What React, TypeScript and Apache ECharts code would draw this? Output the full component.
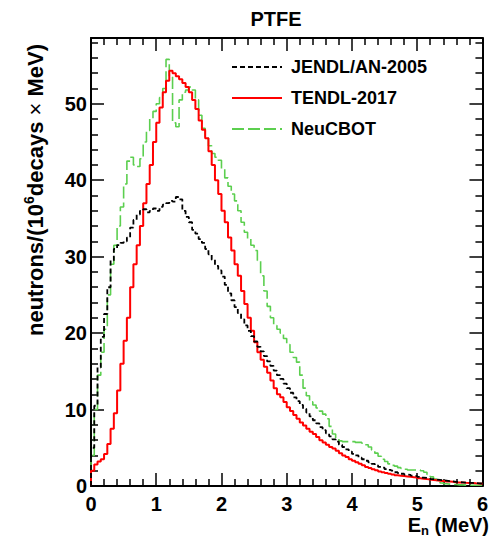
import React, { useEffect, useRef } from 'react';
import * as echarts from 'echarts';

// Histogram bins: 0.05 MeV wide, from 0 to 6 MeV (120 bins)
const BIN_WIDTH = 0.05;
const X_MIN = 0;
const X_MAX = 6;
const Y_MAX = 58.6;
const X_TICK_STEP = 1;
const Y_TICK_STEP = 10;

const SERIES_NAMES = ['JENDL/AN-2005', 'TENDL-2017', 'NeuCBOT'];

const jendl = [
  5, 10.5, 15.5, 19.5, 22.5, 26, 29.5, 31, 31.5, 31.8,
  32, 32.5, 33.8, 34.8, 35.5, 36, 36.2, 35.8, 36, 36.3,
  36, 36.5, 36.8, 37, 37.3, 37.2, 37.8, 37.5, 36, 35.2,
  34.5, 33.5, 33, 32.3, 31.8, 31, 30.3, 29.6, 28.8, 28.2,
  27.4, 26.3, 25.2, 24.3, 23.4, 22.6, 21.8, 21, 20.3, 19.6,
  18.9, 18.2, 17.6, 17, 16.3, 15.7, 15.1, 14.5, 14, 13.4,
  12.8, 12.2, 11.6, 11.1, 10.6, 10.1, 9.6, 9.1, 8.6, 8.2,
  7.7, 7.3, 6.9, 6.5, 6.1, 5.8, 5.4, 5.1, 4.8, 4.5,
  4.2, 4.0, 3.7, 3.5, 3.3, 3.1, 2.9, 2.7, 2.5, 2.4,
  2.2, 2.1, 2.0, 1.8, 1.7, 1.6, 1.5, 1.45, 1.35, 1.3,
  1.2, 1.1, 1.05, 1.0, 0.9, 0.85, 0.8, 0.75, 0.7, 0.65,
  0.6, 0.55, 0.5, 0.48, 0.45, 0.42, 0.4, 0.37, 0.35, 0.32,
];

const tendl = [
  2.0, 2.8, 3.2, 3.5, 4.2, 5.5, 7.5, 9.5, 12.5, 16,
  19, 22, 26, 29, 31.5, 34, 37, 39.5, 42, 45,
  47.5, 49.5, 51.5, 53, 54.3, 54.0, 53.6, 53.2, 52.7, 52.2,
  51.5, 50.5, 49.3, 47.8, 46.6, 45.5, 43.8, 42, 40, 38.2,
  36, 34.5, 32.5, 30.8, 29, 27.5, 25.5, 23.8, 22, 20.3,
  18.8, 17.5, 16.5, 15.6, 14.8, 13.8, 12.8, 12, 11.6, 11.0,
  10.3, 9.8, 9.3, 8.8, 8.3, 7.9, 7.5, 7.1, 6.8, 6.4,
  6.0, 5.7, 5.4, 5.1, 4.9, 4.6, 4.3, 4.0, 3.8, 3.5,
  3.3, 3.1, 2.9, 2.7, 2.5, 2.35, 2.2, 2.05, 1.9, 1.8,
  1.7, 1.6, 1.5, 1.4, 1.35, 1.3, 1.25, 1.2, 1.15, 1.1,
  1.0, 0.95, 0.9, 0.85, 0.8, 0.75, 0.7, 0.65, 0.6, 0.58,
  0.55, 0.5, 0.47, 0.45, 0.42, 0.4, 0.38, 0.35, 0.33, 0.3,
];

const neucbot = [
  4, 10, 14.5, 17.5, 20.5, 25, 29, 31.5, 34, 36.5,
  39.5, 42.5, 43, 42, 41.8, 42.8, 45, 46.5, 48, 49,
  50, 50.8, 52, 55.8, 53.5, 47.5, 47, 50.5, 51.5, 51.8,
  52.2, 51.8, 50.5, 48.5, 46.8, 45.5, 44.5, 43.5, 43, 42.6,
  41.5, 40.3, 39.2, 38.2, 37.3, 36, 34.5, 33.2, 32.3, 31.5,
  30.8, 29.5, 27.5, 25.5, 23.5, 22, 21, 20.5, 20, 19.3,
  18.5, 17.5, 16.8, 16.2, 14.5, 12.8, 11.8, 11, 10.6, 10.2,
  9.8, 9.4, 8.8, 7.8, 6.8, 6.2, 5.9, 5.8, 5.8, 5.8,
  5.8, 5.7, 5.7, 5.6, 5.4, 5.1, 4.7, 4.3, 3.9, 3.5,
  3.2, 2.9, 2.7, 2.6, 2.4, 2.3, 2.2, 2.1, 2.1, 2.1,
  2.1, 2.0, 1.8, 1.5, 1.2, 0.9, 0.6, 0.4, 0.3, 0.25,
  0.2, 0.2, 0.15, 0.15, 0.12, 0.1, 0.1, 0.1, 0.1, 0.1,
];

const FONT = '"Liberation Sans", Arial, Helvetica, sans-serif';

function toSteps(vals: number[]): [number, number][] {
  const pts: [number, number][] = [[X_MIN, 0]];
  vals.forEach((v, i) => pts.push([+(X_MIN + i * BIN_WIDTH).toFixed(3), v]));
  pts.push([X_MAX, vals[vals.length - 1]]);
  return pts;
}

export default function App() {
  const ref = useRef<HTMLDivElement>(null);

  useEffect(() => {
    if (!ref.current) return;
    const chart = echarts.init(ref.current, null, { renderer: 'svg' });

    const axisLine = { show: true, onZero: false, lineStyle: { color: '#000', width: 2 } };
    const axisTick = { show: true, inside: true, length: 13, lineStyle: { color: '#000', width: 1.5 } };
    const minorTick = { show: true, splitNumber: 5, length: 7, lineStyle: { color: '#000', width: 1.5 } };
    const labelStyle = { color: '#000', fontSize: 20, fontWeight: 'bold', fontFamily: FONT };

    const xBase = {
      type: 'value', min: X_MIN, max: X_MAX, interval: X_TICK_STEP,
      axisLine, axisTick, minorTick, splitLine: { show: false },
    };
    const yBase = {
      type: 'value', min: 0, max: Y_MAX, interval: Y_TICK_STEP,
      axisLine, axisTick, minorTick, splitLine: { show: false },
    };

    chart.setOption({
      animation: false,
      backgroundColor: '#fff',
      grid: { left: 91, right: 2, top: 38, bottom: 53, containLabel: false },
      xAxis: [
        { ...xBase, position: 'bottom', axisLabel: { ...labelStyle, margin: 8 } },
        { ...xBase, position: 'top', axisLabel: { show: false } },
      ],
      yAxis: [
        { ...yBase, position: 'left', axisLabel: { ...labelStyle, margin: 4, showMaxLabel: false } },
        { ...yBase, position: 'right', axisLabel: { show: false } },
      ],
      legend: {
        orient: 'vertical', left: 226, top: 52,
        itemWidth: 50, itemHeight: 20, itemGap: 11,
        selectedMode: false,
        data: SERIES_NAMES,
        itemStyle: { opacity: 0 },
        textStyle: { color: '#000', fontSize: 18, fontWeight: 'bold', fontFamily: FONT, padding: [0, 0, 0, 4], lineHeight: 20 },
      },
      graphic: [
        {
          type: 'text', x: 276, y: 19,
          style: { text: 'PTFE', fontSize: 20, fontWeight: 'bold', fontFamily: FONT, fill: '#000', align: 'center', verticalAlign: 'middle' },
        },
        {
          type: 'text', x: 35, y: 190, rotation: Math.PI / 2,
          style: {
            text: '{a|neutrons/(10}{s|6}{a|decays }{x|×}{a| MeV)}',
            fill: '#000', align: 'center', verticalAlign: 'middle',
            rich: {
              a: { fontSize: 22, fontWeight: 'bold', fontFamily: FONT, fill: '#000', lineHeight: 26 },
              x: { fontSize: 22, fontWeight: 'normal', fontFamily: FONT, fill: '#000', lineHeight: 26 },
              s: { fontSize: 14, fontWeight: 'bold', fontFamily: FONT, fill: '#000', lineHeight: 14, verticalAlign: 'top' },
            },
          },
        },
        {
          type: 'text', x: 489, y: 525,
          style: {
            text: '{a|E}{s|n}{a| (MeV)}',
            fill: '#000', align: 'right', verticalAlign: 'middle',
            rich: {
              a: { fontSize: 20, fontWeight: 'bold', fontFamily: FONT, fill: '#000', lineHeight: 24 },
              s: { fontSize: 13, fontWeight: 'bold', fontFamily: FONT, fill: '#000', lineHeight: 12, verticalAlign: 'bottom' },
            },
          },
        },
      ],
      series: [
        {
          name: 'NeuCBOT', type: 'line', step: 'end', symbol: 'none', data: toSteps(neucbot),
          lineStyle: { color: '#5ccf4f', width: 1.6, type: [12, 4] }, itemStyle: { color: '#5ccf4f' }, z: 2,
        },
        {
          name: 'TENDL-2017', type: 'line', step: 'end', symbol: 'none', data: toSteps(tendl),
          lineStyle: { color: '#ff0000', width: 2, type: 'solid' }, itemStyle: { color: '#ff0000' }, z: 3,
        },
        {
          name: 'JENDL/AN-2005', type: 'line', step: 'end', symbol: 'none', data: toSteps(jendl),
          lineStyle: { color: '#000', width: 1.8, type: [5, 3] }, itemStyle: { color: '#000' }, z: 4,
        },
      ],
    });

    return () => chart.dispose();
  }, []);

  return <div ref={ref} style={{ position: 'absolute', left: 0, top: 0, width: 491, height: 539 }} />;
}
